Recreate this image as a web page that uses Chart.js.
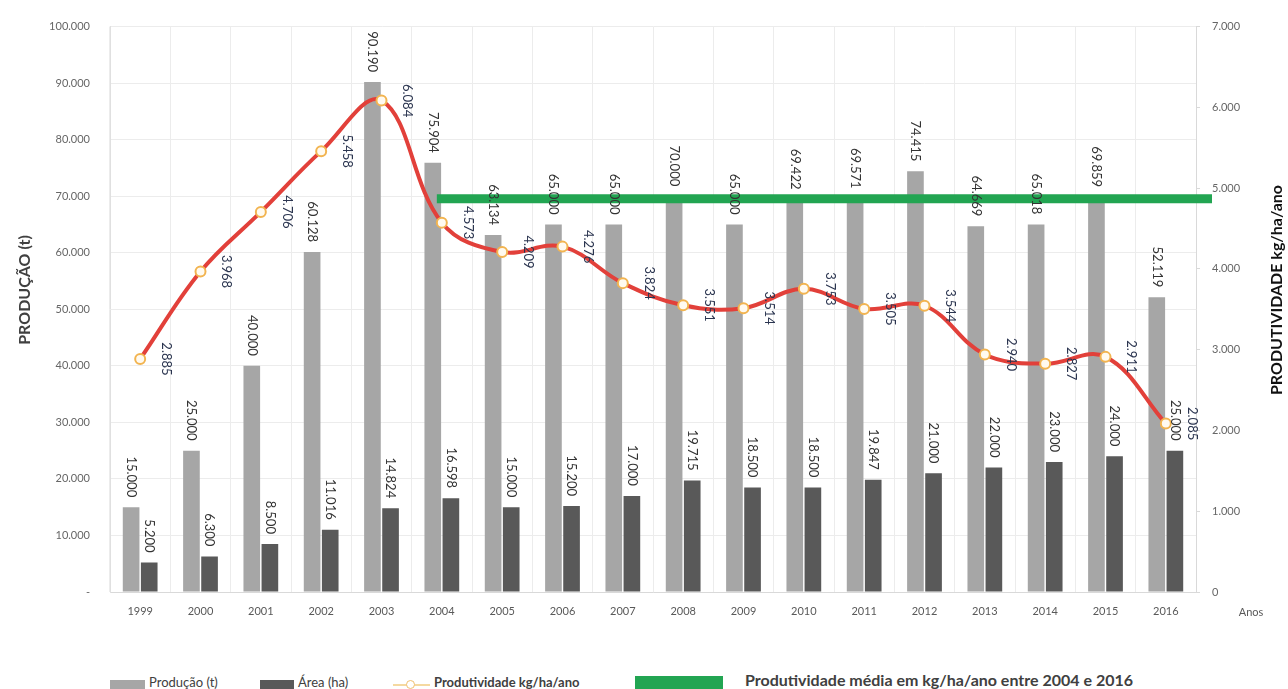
<!DOCTYPE html>
<html>
<head>
<meta charset="utf-8">
<script src="https://cdn.jsdelivr.net/npm/chart.js@4/dist/chart.umd.min.js"></script>
<style>
    body { margin: 0; background: #fff; }
    #wrap { position: relative; width: 1288px; height: 689px; overflow: hidden; font-family: Lato, "Open Sans", sans-serif; }
    #mainChart { position: absolute; left: 0; top: 0; }
    .leg { position: absolute; top: 673px; font-size: 13px; color: #404040; line-height: 18px; white-space: nowrap; }
    .box { position: absolute; height: 9px; }
</style>
</head>
<body>
<div id="wrap">
    <canvas id="mainChart" width="1288" height="670"></canvas>
    <div class="box" style="left:110px; top:680px; width:35px; background:#a6a6a6"></div>
    <div class="leg" style="left:149px">Produção (t)</div>
    <div class="box" style="left:260px; top:680px; width:34px; background:#595959"></div>
    <div class="leg" style="left:298px">Área (ha)</div>
    <div class="box" style="left:393px; top:684px; width:37px; height:2px; background:#f5d9a0"></div>
    <div class="box" style="left:406px; top:680px; width:7px; height:7px; border:1px solid #f0c070; border-radius:50%; background:#fff"></div>
    <div class="leg" style="left:434px; font-weight:bold">Produtividade kg/ha/ano</div>
    <div class="box" style="left:635px; top:676px; width:88px; height:13px; background:#22a552"></div>
    <div class="leg" style="left:745px; top:671px; font-size:16px; font-weight:bold">Produtividade média em kg/ha/ano entre 2004 e 2016</div>
</div>
<script>
const anos = ['1999','2000','2001','2002','2003','2004','2005','2006','2007','2008','2009','2010','2011','2012','2013','2014','2015','2016'];
const producao = [15000, 25000, 40000, 60128, 90190, 75904, 63134, 65000, 65000, 70000, 65000, 69422, 69571, 74415, 64669, 65018, 69859, 52119];
const area = [5200, 6300, 8500, 11016, 14824, 16598, 15000, 15200, 17000, 19715, 18500, 18500, 19847, 21000, 22000, 23000, 24000, 25000];
const produtividade = [2885, 3968, 4706, 5458, 6084, 4573, 4209, 4276, 3824, 3551, 3514, 3753, 3505, 3544, 2940, 2827, 2911, 2085];
const mediaProdutividade = 4870;
const mediaDesde = '2004';

function fmt(v) {
    return String(v).replace(/\B(?=(\d{3})+(?!\d))/g, '.');
}

// rotated value labels, average line, axis titles and "Anos"
const extras = {
    id: 'extras',
    afterDatasetsDraw(chart) {
        const ctx = chart.ctx;
        const x = chart.scales.x;
        const y2 = chart.scales.y2;
        const area_ = chart.chartArea;

        // green average line
        let yMedia = y2.getPixelForValue(mediaProdutividade);
        let xIni = x.getPixelForValue(anos.indexOf(mediaDesde)) - 5;
        ctx.save();
        ctx.strokeStyle = '#22a552';
        ctx.lineWidth = 9;
        ctx.beginPath();
        ctx.moveTo(xIni, yMedia);
        ctx.lineTo(area_.right + 16, yMedia);
        ctx.stroke();
        ctx.restore();

        ctx.save();
        ctx.font = '13px Lato, "Open Sans", sans-serif';
        [0, 1].forEach(i => {
            chart.getDatasetMeta(i).data.forEach((bar, j) => {
                ctx.save();
                ctx.translate(bar.x, bar.y - 10);
                ctx.rotate(Math.PI / 2);
                ctx.textAlign = 'right';
                ctx.textBaseline = 'middle';
                ctx.fillStyle = '#333';
                ctx.fillText(fmt(chart.data.datasets[i].data[j]), 0, 0);
                ctx.restore();
            });
        });
        chart.getDatasetMeta(2).data.forEach((pt, j) => {
            ctx.save();
            ctx.translate(pt.x + 26, pt.y);
            ctx.rotate(Math.PI / 2);
            ctx.textAlign = 'center';
            ctx.textBaseline = 'middle';
            ctx.fillStyle = '#2b3550';
            ctx.fillText(fmt(produtividade[j]), 0, 0);
            ctx.restore();
        });

        ctx.font = '11px Lato, "Open Sans", sans-serif';
        ctx.fillStyle = '#595959';
        ctx.textAlign = 'center';
        ctx.textBaseline = 'middle';
        ctx.fillText('Anos', area_.right + 55, area_.bottom + 20);

        // axis titles, both reading bottom to top
        ctx.font = 'bold 16px Lato, "Open Sans", sans-serif';
        ctx.save();
        ctx.translate(25, 290);
        ctx.rotate(-Math.PI / 2);
        ctx.fillStyle = '#404040';
        ctx.fillText('PRODUÇÃO (t)', 0, 0);
        ctx.restore();
        ctx.save();
        ctx.translate(1277, 290);
        ctx.rotate(-Math.PI / 2);
        ctx.fillStyle = '#111';
        ctx.fillText('PRODUTIVIDADE kg/ha/ano', 0, 0);
        ctx.restore();
        ctx.restore();
    }
};

const ctx = document.getElementById('mainChart').getContext('2d');
const mainChart = new Chart(ctx, {
    data: {
        labels: anos,
        datasets: [{
            type: 'bar',
            label: 'Produção (t)',
            data: producao,
            backgroundColor: '#a6a6a6',
            yAxisID: 'y',
            categoryPercentage: 0.6,
            barPercentage: 0.92,
            order: 2
        },
        {
            type: 'bar',
            label: 'Área (ha)',
            data: area,
            backgroundColor: '#595959',
            yAxisID: 'y',
            categoryPercentage: 0.6,
            barPercentage: 0.92,
            order: 2
        },
        {
            type: 'line',
            label: 'Produtividade kg/ha/ano',
            data: produtividade,
            yAxisID: 'y2',
            borderColor: '#e2403a',
            borderWidth: 4,
            tension: 0.38,
            pointRadius: 5,
            pointBorderWidth: 2,
            pointBackgroundColor: '#fffaf0',
            pointBorderColor: '#f2b450',
            order: 0
        }
        ]
    },
    options: {
        responsive: false,
        animation: false,
        layout: { padding: { top: 26, left: 0, right: 0, bottom: 0 } },
        plugins: {
            legend: { display: false },
            tooltip: { enabled: false }
        },
        scales: {
            x: {
                grid: { color: '#ececec', offset: true, drawTicks: false },
                border: { color: '#d9d9d9' },
                ticks: { color: '#595959', font: { size: 11, family: 'Lato' }, padding: 13 },
                afterFit: s => { s.height = 78; }
            },
            y: {
                position: 'left',
                min: 0,
                max: 100000,
                ticks: {
                    stepSize: 10000,
                    color: '#666',
                    font: { size: 11, family: 'Lato' },
                    padding: 20,
                    callback: v => v === 0 ? '-' : fmt(v)
                },
                grid: { color: '#ececec', drawTicks: false },
                border: { color: '#e0e0e0' },
                afterFit: s => { s.width = 110; }
            },
            y2: {
                position: 'right',
                min: 0,
                max: 7000,
                ticks: {
                    stepSize: 1000,
                    color: '#666',
                    font: { size: 11, family: 'Lato' },
                    padding: 12,
                    callback: v => fmt(v)
                },
                grid: { drawOnChartArea: false, color: '#d9d9d9', tickLength: 4 },
                border: { color: '#d9d9d9' },
                afterFit: s => { s.width = 92; }
            }
        }
    },
    plugins: [extras]
});
</script>
</body>
</html>
